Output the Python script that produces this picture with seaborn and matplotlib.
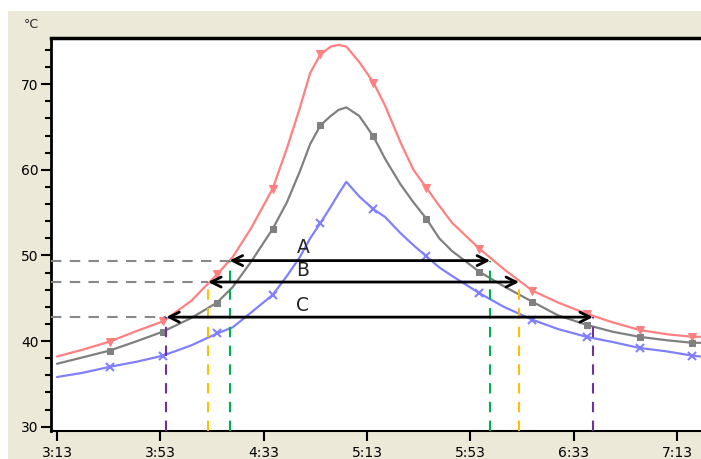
import matplotlib
matplotlib.use('Agg')
import matplotlib.pyplot as plt
import matplotlib.patches as mpatches
from matplotlib.ticker import FuncFormatter, MultipleLocator
import seaborn as sns

# === Datos: tiempo en minutos desde 0:00, temperatura en °C ===
tiempo = [193, 203, 213.5, 224, 234, 245, 255, 261, 268, 276.5, 282, 287, 291, 295,
          299, 302, 305, 310, 315.5, 320, 326, 331, 336, 341, 346, 356.5, 366, 377,
          387, 398, 408, 418.5, 429, 439, 442]
rojo = [38.2, 39.0, 39.95, 41.2, 42.3, 44.7, 47.8, 49.8, 53.1, 57.8, 62.5, 67.2, 71.3, 73.5,
        74.4, 74.6, 74.4, 72.6, 70.2, 67.5, 63.2, 60.0, 57.9, 55.8, 53.8, 50.8, 48.4, 45.9,
        44.5, 43.2, 42.2, 41.3, 40.8, 40.5, 40.5]
gris = [37.35, 38.1, 38.9, 40.0, 41.1, 42.7, 44.5, 46.3, 49.2, 53.1, 56.2, 59.8, 63.0, 65.2,
        66.3, 67.0, 67.3, 66.3, 63.9, 61.3, 58.3, 56.2, 54.3, 52.0, 50.5, 48.1, 46.4, 44.6,
        43.0, 41.9, 41.1, 40.5, 40.1, 39.8, 39.8]
azul = [35.8, 36.3, 37.0, 37.6, 38.3, 39.5, 40.9, 41.6, 43.3, 45.4, 47.6, 49.8, 52.0, 53.8,
        55.7, 57.2, 58.6, 56.9, 55.4, 54.5, 52.6, 51.2, 49.9, 48.6, 47.6, 45.6, 44.0, 42.5,
        41.4, 40.5, 39.9, 39.2, 38.8, 38.3, 38.2]
marcas = [2, 4, 6, 9, 13, 18, 22, 25, 27, 29, 31, 33]

# Rangos marcados: (etiqueta, temperatura, inicio, fin, color vertical)
rangos = [('A', 49.4, 259.8, 360.7, '#00B050'),
          ('B', 46.9, 251.5, 371.9, '#FFC000'),
          ('C', 42.8, 235.3, 400.5, '#7030A0')]
pos_etiquetas = [50.9, 48.3, 44.2]

x_min, x_max = 190.7, 442.3
y_min, y_max = 29.5, 75.4

sns.set_style('white')
plt.rcParams['font.family'] = ['DejaVu Sans']

fig = plt.figure(figsize=(7.01, 4.59), dpi=100, facecolor='white')
fig.patches.append(mpatches.Rectangle((8 / 701, 0), 1, 1 - 11 / 459, transform=fig.transFigure,
                                      facecolor='#ECE9D8', edgecolor='none', zorder=-10))
ax = fig.add_axes([51 / 701, 28 / 459, 1 - 51 / 701, (431 - 38) / 459])
ax.set_facecolor('white')

# Curvas
sns.lineplot(x=tiempo, y=rojo, color='#FF8080', lw=1.6, marker='v', markersize=6,
             markevery=marcas, markeredgecolor='#FF8080', ax=ax)
sns.lineplot(x=tiempo, y=gris, color='#808080', lw=1.6, marker='s', markersize=5,
             markevery=marcas, markeredgecolor='#808080', ax=ax)
sns.lineplot(x=tiempo, y=azul, color='#8080FF', lw=1.6, marker='x', markersize=6,
             markevery=marcas, markeredgewidth=1.5, markeredgecolor='#8080FF', ax=ax)

# Líneas guía y flechas
for (etiq, temp, ini, fin, col), yl in zip(rangos, pos_etiquetas):
    ax.plot([x_min, ini], [temp, temp], color='#888888', lw=1.5, ls=(0, (5, 4)), zorder=3)
    ax.plot([ini, ini], [y_min, temp], color=col, lw=1.5, ls=(0, (5, 4)), zorder=3)
    ax.plot([fin, fin], [y_min, temp], color=col, lw=1.5, ls=(0, (5, 4)), zorder=3)
    ax.annotate('', xy=(ini, temp), xytext=(fin, temp),
                arrowprops=dict(arrowstyle='<->', color='black', lw=2,
                                mutation_scale=18, shrinkA=0, shrinkB=0), zorder=5)
    ax.text(288.2, yl, etiq, fontsize=13.5, ha='center', va='center', zorder=6)

ax.set_xlim(x_min, x_max)
ax.set_ylim(y_min, y_max)
ax.set_xticks(range(193, 441, 40))
ax.xaxis.set_major_formatter(FuncFormatter(lambda v, p: f'{int(v) // 60}:{int(v) % 60:02d}'))
ax.yaxis.set_major_locator(MultipleLocator(10))
ax.yaxis.set_minor_locator(MultipleLocator(2))
ax.tick_params(axis='both', which='major', direction='out', length=7, width=1.5,
               color='black', labelsize=10, labelcolor='black', left=True, bottom=True)
ax.tick_params(axis='y', which='minor', direction='out', length=4, width=1.5, color='black', left=True)
ax.tick_params(axis='x', pad=4)
ax.tick_params(axis='y', pad=2)

for lado in ['left', 'top', 'bottom']:
    ax.spines[lado].set_visible(True)
    ax.spines[lado].set_color('black')
ax.spines['left'].set_linewidth(2)
ax.spines['top'].set_linewidth(2.5)
ax.spines['bottom'].set_linewidth(1.5)
ax.spines['right'].set_visible(False)
ax.set_xlabel('')
ax.set_ylabel('')

fig.text(24 / 701, 1 - 25 / 459, '°C', fontsize=9, va='center', ha='left')

fig.savefig('out.png', dpi=100, facecolor=fig.get_facecolor())
